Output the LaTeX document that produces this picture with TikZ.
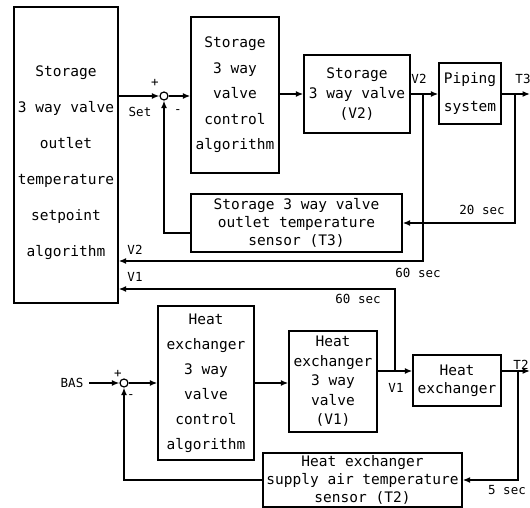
\documentclass[tikz,border=0pt]{standalone}
\usepackage{fontspec}
\setmainfont{DejaVu Sans Mono}
\usetikzlibrary{arrows.meta}

\begin{document}
\begin{tikzpicture}[x=1pt, y=-1pt,
  box/.style={draw, line width=1.4pt, align=center, inner sep=1pt,
              font=\fontsize{14.5}{#1}\selectfont},
  sum/.style={circle, draw, line width=1.2pt, minimum size=8pt, inner sep=0pt},
  ar/.style={-{Latex[length=7.5pt,width=6pt]}, line width=1.4pt},
  lbl/.style={font=\fontsize{12.5}{14}\selectfont, inner sep=1pt}
]
\useasboundingbox (0,0) rectangle (530,508);
% storage loop
\node[box=36, minimum width=104pt, minimum height=296pt] (big) at (66,155)
  {\rule{0pt}{27pt}Storage\\3 way valve\\outlet\\temperature\\setpoint\\algorithm};
\node[sum] (sumS) at (164,96) {};
\node[box=25.5, minimum width=88pt, minimum height=156pt] (ctrlS) at (235,95)
  {Storage\\3 way\\valve\\control\\algorithm};
\node[box=20, minimum width=106pt, minimum height=78pt] (valveS) at (357,94)
  {Storage\\3 way valve\\(V2)};
\node[box=28, minimum width=62pt, minimum height=61pt] (pipe) at (470,93.5)
  {Piping\\system};
\node[box=18, minimum width=211pt, minimum height=58pt] (sensS) at (296.5,223)
  {Storage 3 way valve\\outlet temperature\\sensor (T3)};
\coordinate (brV2) at (423,94);
\coordinate (brT3) at (515,94);
\coordinate (outT3) at (530,94);
\coordinate (v2low) at (423,261);
\draw[ar] (big.east |- sumS) -- (sumS.west);
\draw[ar] (sumS.east) -- (sumS.east -| ctrlS.west);
\draw[ar] (ctrlS.east |- valveS) -- (valveS.west);
\draw[ar] (valveS.east |- brV2) -- (brV2 -| pipe.west);
\draw[ar] (pipe.east |- outT3) -- (outT3);
\draw[ar] (brT3) |- (sensS.east);
\draw[ar] ([yshift=-10pt]sensS.west) -| (sumS.south);
\draw[ar] (brV2) -- (v2low) -- (v2low -| big.east);
\node[lbl] (plusS) at (155,83) {+};
\node[lbl] (minusS) at (178,112) {-};
\node[lbl] (set) at (140,112) {Set};
\node[lbl] (labV2) at (419,79) {V2};
\node[lbl] (labT3) at (523,79) {T3};
\node[lbl] (t20) at (482,210) {20 sec};
\node[lbl] (labV2b) at (135,250) {V2};
\node[lbl] (t60a) at (418,273) {60 sec};
% heat exchanger loop
\node[sum] (sumH) at (124,383) {};
\node[box=25, minimum width=96pt, minimum height=154pt] (ctrlH) at (206,383)
  {Heat\\exchanger\\3 way\\valve\\control\\algorithm};
\node[box=19.5, minimum width=88pt, minimum height=101pt] (valveH) at (333,381.5)
  {Heat\\exchanger\\3 way\\valve\\(V1)};
\node[box=18, minimum width=88pt, minimum height=51pt] (hx) at (457,380.5)
  {Heat\\exchanger};
\node[box=18, minimum width=199pt, minimum height=54pt] (sensH) at (362.5,480)
  {Heat exchanger\\supply air temperature\\sensor (T2)};
\node[lbl] (bas) at (72,383) {BAS};
\coordinate (brV1) at (395,371);
\coordinate (v1top) at (395,289);
\coordinate (brT2) at (518,371);
\coordinate (outT2) at (530,371);
\draw[ar] ([xshift=5pt]bas.east) -- (sumH.west);
\draw[ar] (sumH.east) -- (sumH.east -| ctrlH.west);
\draw[ar] (ctrlH.east |- sumH) -- (sumH -| valveH.west);
\draw[ar] (valveH.east |- brV1) -- (brV1 -| hx.west);
\draw[ar] (hx.east |- outT2) -- (outT2);
\draw[ar] (brT2) |- (sensH.east);
\draw[ar] (sensH.west) -| (sumH.south);
\draw[ar] (brV1) -- (v1top) -- (v1top -| big.east);
\node[lbl] (plusH) at (118,374) {+};
\node[lbl] (minusH) at (131,397) {-};
\node[lbl] (labV1) at (396,388) {V1};
\node[lbl] (labT2) at (521,365) {T2};
\node[lbl] (t5) at (507,490) {5 sec};
\node[lbl] (labV1b) at (135,277) {V1};
\node[lbl] (t60b) at (358,299) {60 sec};
\end{tikzpicture}
\end{document}
